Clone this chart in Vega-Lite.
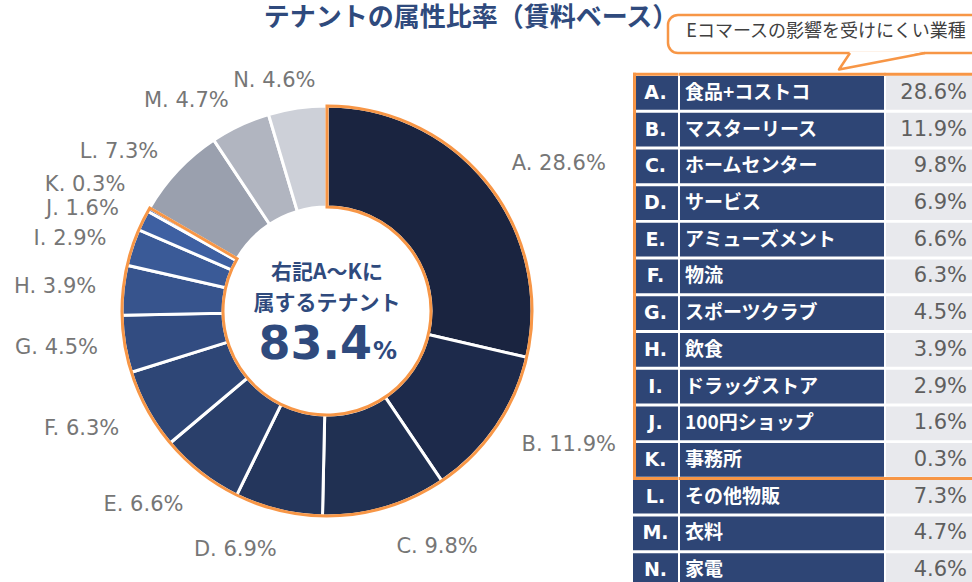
{
  "$schema": "https://vega.github.io/schema/vega-lite/v6.json",
  "padding": 0,
  "background": "white",
  "bounds": "flush",
  "spacing": 0,
  "config": {"view": {"stroke": null}, "concat": {"spacing": 0}},
  "datasets": {
    "tenants": [
      {"key": "A", "name": "食品+コストコ", "value": 28.6, "grp": "AK"},
      {"key": "B", "name": "マスターリース", "value": 11.9, "grp": "AK"},
      {"key": "C", "name": "ホームセンター", "value": 9.8, "grp": "AK"},
      {"key": "D", "name": "サービス", "value": 6.9, "grp": "AK"},
      {"key": "E", "name": "アミューズメント", "value": 6.6, "grp": "AK"},
      {"key": "F", "name": "物流", "value": 6.3, "grp": "AK"},
      {"key": "G", "name": "スポーツクラブ", "value": 4.5, "grp": "AK"},
      {"key": "H", "name": "飲食", "value": 3.9, "grp": "AK"},
      {"key": "I", "name": "ドラッグストア", "value": 2.9, "grp": "AK"},
      {"key": "J", "name": "100円ショップ", "value": 1.6, "grp": "AK"},
      {"key": "K", "name": "事務所", "value": 0.3, "grp": "AK"},
      {"key": "L", "name": "その他物販", "value": 7.3, "grp": "LN"},
      {"key": "M", "name": "衣料", "value": 4.7, "grp": "LN"},
      {"key": "N", "name": "家電", "value": 4.6, "grp": "LN"}
    ],
    "center": [{"l1": "右記A～Kに", "l2": "属するテナント", "pct": "83.4", "unit": "%"}],
    "one": [{"t": "Eコマースの影響を受けにくい業種"}]
  },
  "hconcat": [
    {"width": 21, "height": 10, "data": {"name": "one"}, "mark": {"type": "text", "text": ""}, "encoding": {}},
    {
      "width": 612,
      "height": 620,
      "title": {"text": "テナントの属性比率（賃料ベース）", "font": "Noto Sans CJK JP", "fontSize": 26, "fontWeight": "bold", "color": "#2f4a7d", "anchor": "middle", "frame": "group", "dx": 144, "offset": -30},
      "data": {"name": "tenants"},
      "transform": [{"calculate": "datum.key + '. ' + format(datum.value, '.1f') + '%'", "as": "lbl"}],
      "layer": [
        {
          "mark": {"type": "arc", "outerRadius": 205, "innerRadius": 104, "stroke": "white", "strokeWidth": 3},
          "encoding": {
            "theta": {"field": "value", "type": "quantitative", "stack": true},
            "color": {"field": "key", "type": "nominal", "legend": null,
              "scale": {"domain": ["A","B","C","D","E","F","G","H","I","J","K","L","M","N"],
                "range": ["#1a2440","#1d2a4b","#203052","#24365c","#2a3f6a","#2e4676","#324c81","#37548d","#3a5a97","#3e60a2","#4a6cb3","#9aa0ae","#b1b5c0","#cdd0d8"]}},
            "order": {"field": "key", "type": "ordinal"}
          }
        },
        {
          "transform": [
            {"filter": "datum.grp === 'AK'"},
            {"aggregate": [{"op": "sum", "field": "value", "as": "value"}], "groupby": ["grp"]}
          ],
          "mark": {"type": "arc", "outerRadius": 205, "innerRadius": 104, "fill": "transparent", "stroke": "#f79646", "strokeWidth": 3},
          "encoding": {"theta": {"field": "value", "type": "quantitative", "stack": true}}
        },
        {
          "mark": {"type": "text", "radius": 236, "font": "DejaVu Sans", "fontSize": 21, "color": "#767676", "align": "left", "baseline": "middle"},
          "encoding": {
            "theta": {"field": "value", "type": "quantitative", "stack": true},
            "order": {"field": "key", "type": "ordinal"},
            "detail": {"field": "key", "type": "nominal"},
            "text": {"condition": {"test": "indexof(['A','B'], datum.key) >= 0", "field": "lbl", "type": "nominal"}, "value": ""}
          }
        },
        {
          "mark": {"type": "text", "radius": 246, "font": "DejaVu Sans", "fontSize": 21, "color": "#767676", "align": "left", "baseline": "middle"},
          "encoding": {
            "theta": {"field": "value", "type": "quantitative", "stack": true},
            "order": {"field": "key", "type": "ordinal"},
            "detail": {"field": "key", "type": "nominal"},
            "text": {"condition": {"test": "datum.key === 'C'", "field": "lbl", "type": "nominal"}, "value": ""}
          }
        },
        {
          "mark": {"type": "text", "radius": 246, "font": "DejaVu Sans", "fontSize": 21, "color": "#767676", "align": "right", "baseline": "middle", "dx": 8},
          "encoding": {
            "theta": {"field": "value", "type": "quantitative", "stack": true},
            "order": {"field": "key", "type": "ordinal"},
            "detail": {"field": "key", "type": "nominal"},
            "text": {"condition": {"test": "indexof(['D','E','F'], datum.key) >= 0", "field": "lbl", "type": "nominal"}, "value": ""}
          }
        },
        {
          "mark": {"type": "text", "radius": 232, "font": "DejaVu Sans", "fontSize": 21, "color": "#767676", "align": "right", "baseline": "middle"},
          "encoding": {
            "theta": {"field": "value", "type": "quantitative", "stack": true},
            "order": {"field": "key", "type": "ordinal"},
            "detail": {"field": "key", "type": "nominal"},
            "text": {"condition": {"test": "indexof(['G','H','I','J','L','M'], datum.key) >= 0", "field": "lbl", "type": "nominal"}, "value": ""}
          }
        },
        {
          "mark": {"type": "text", "radius": 232, "font": "DejaVu Sans", "fontSize": 21, "color": "#767676", "align": "right", "baseline": "middle", "dy": -11},
          "encoding": {
            "theta": {"field": "value", "type": "quantitative", "stack": true},
            "order": {"field": "key", "type": "ordinal"},
            "detail": {"field": "key", "type": "nominal"},
            "text": {"condition": {"test": "datum.key === 'K'", "field": "lbl", "type": "nominal"}, "value": ""}
          }
        },
        {
          "mark": {"type": "text", "radius": 232, "font": "DejaVu Sans", "fontSize": 21, "color": "#767676", "align": "right", "baseline": "middle", "dx": 22},
          "encoding": {
            "theta": {"field": "value", "type": "quantitative", "stack": true},
            "order": {"field": "key", "type": "ordinal"},
            "detail": {"field": "key", "type": "nominal"},
            "text": {"condition": {"test": "datum.key === 'N'", "field": "lbl", "type": "nominal"}, "value": ""}
          }
        },
        {
          "data": {"name": "center"},
          "mark": {"type": "text", "font": "Noto Sans CJK JP", "fontSize": 21, "fontWeight": "bold", "color": "#2f4a7d", "baseline": "alphabetic", "dy": -32},
          "encoding": {"text": {"field": "l1", "type": "nominal"}}
        },
        {
          "data": {"name": "center"},
          "mark": {"type": "text", "font": "Noto Sans CJK JP", "fontSize": 21, "fontWeight": "bold", "color": "#2f4a7d", "baseline": "alphabetic", "dy": -1},
          "encoding": {"text": {"field": "l2", "type": "nominal"}}
        },
        {
          "data": {"name": "center"},
          "mark": {"type": "text", "font": "DejaVu Sans", "fontSize": 46, "fontWeight": "bold", "color": "#2f4a7d", "baseline": "alphabetic", "align": "right", "dx": 45, "dy": 48},
          "encoding": {"text": {"field": "pct", "type": "nominal"}}
        },
        {
          "data": {"name": "center"},
          "mark": {"type": "text", "font": "DejaVu Sans", "fontSize": 24, "fontWeight": "bold", "color": "#2f4a7d", "baseline": "alphabetic", "align": "left", "dx": 46, "dy": 48},
          "encoding": {"text": {"field": "unit", "type": "nominal"}}
        }
      ]
    },
    {
      "spacing": 0,
      "vconcat": [
        {"width": 1, "height": 12, "data": {"name": "one"}, "mark": {"type": "text", "text": ""}, "encoding": {}},
        {
          "spacing": 2,
          "bounds": "flush",
          "hconcat": [
            {"width": 33, "height": 38, "data": {"name": "one"}, "mark": {"type": "text", "text": ""}, "encoding": {}},
            {
              "width": 330,
              "height": 38,
              "view": {"fill": "white", "stroke": "#f79646", "strokeWidth": 2.5, "cornerRadius": 10},
              "data": {"name": "one"},
              "layer": [
                {"mark": {"type": "point", "shape": "M0.17,0.175 L0.93,0.175 L0.06,0.355 Z", "size": 40000, "filled": true, "fill": "white", "strokeWidth": 0, "opacity": 1}},
                {"mark": {"type": "point", "shape": "M0.17,0.19 L0.06,0.355 L0.92,0.19", "size": 40000, "filled": false, "stroke": "#f79646", "strokeWidth": 2.5, "strokeJoin": "round", "opacity": 1}},
                {"mark": {"type": "text", "font": "Noto Sans CJK JP", "fontSize": 18, "color": "#404040", "align": "center", "baseline": "middle", "dx": -7, "dy": -2},
                 "encoding": {"text": {"field": "t", "type": "nominal"}}}
              ]
            }
          ]
        },
        {
          "spacing": 2,
          "bounds": "flush",
          "hconcat": [
            {
              "width": 45,
              "height": 511,
              "data": {"name": "tenants"},
              "transform": [{"calculate": "datum.key + '.'", "as": "k"}],
              "encoding": {"y": {"field": "key", "type": "nominal", "axis": null,
                "scale": {"domain": ["A","B","C","D","E","F","G","H","I","J","K","L","M","N"], "paddingInner": 0.08, "paddingOuter": 0}}},
              "layer": [
                {"mark": {"type": "rect", "color": "#2e4575"}},
                {"mark": {"type": "text", "color": "white", "font": "DejaVu Sans", "fontSize": 19, "fontWeight": "bold", "baseline": "middle"},
                 "encoding": {"text": {"field": "k", "type": "nominal"}}},
                {"data": {"name": "one"}, "mark": {"type": "rule", "color": "#f79646", "strokeWidth": 3, "strokeCap": "butt"},
                 "encoding": {"y": {"datum": "A", "type": "nominal", "bandPosition": -0.05}}},
                {"data": {"name": "one"}, "mark": {"type": "rule", "color": "#f79646", "strokeWidth": 3, "strokeCap": "butt"},
                 "encoding": {"y": {"datum": "K", "type": "nominal", "bandPosition": 1.05}}},
                {"data": {"name": "one"}, "mark": {"type": "rule", "color": "#f79646", "strokeWidth": 3, "strokeCap": "square"},
                 "encoding": {
                   "x": {"datum": 0.034, "type": "quantitative", "scale": {"domain": [0, 1]}, "axis": null},
                   "y": {"datum": "A", "type": "nominal", "bandPosition": -0.05},
                   "y2": {"datum": "K", "bandPosition": 1.05}}}
              ]
            },
            {
              "width": 204,
              "height": 511,
              "data": {"name": "tenants"},
              "encoding": {"y": {"field": "key", "type": "nominal", "axis": null,
                "scale": {"domain": ["A","B","C","D","E","F","G","H","I","J","K","L","M","N"], "paddingInner": 0.08, "paddingOuter": 0}}},
              "layer": [
                {"mark": {"type": "rect", "color": "#2e4575"}},
                {"mark": {"type": "text", "color": "white", "font": "Noto Sans CJK JP", "fontSize": 19, "fontWeight": "bold", "baseline": "middle", "align": "left", "dx": -97},
                 "encoding": {"text": {"field": "name", "type": "nominal"}}},
                {"data": {"name": "one"}, "mark": {"type": "rule", "color": "#f79646", "strokeWidth": 3, "strokeCap": "square"},
                 "encoding": {"y": {"datum": "A", "type": "nominal", "bandPosition": -0.05}}},
                {"data": {"name": "one"}, "mark": {"type": "rule", "color": "#f79646", "strokeWidth": 3, "strokeCap": "square"},
                 "encoding": {"y": {"datum": "K", "type": "nominal", "bandPosition": 1.05}}}
              ]
            },
            {
              "width": 95,
              "height": 511,
              "data": {"name": "tenants"},
              "transform": [{"calculate": "format(datum.value, '.1f') + '%'", "as": "pct"}],
              "encoding": {"y": {"field": "key", "type": "nominal", "axis": null,
                "scale": {"domain": ["A","B","C","D","E","F","G","H","I","J","K","L","M","N"], "paddingInner": 0.08, "paddingOuter": 0}}},
              "layer": [
                {"mark": {"type": "rect", "color": "#e8e9ed"}},
                {"mark": {"type": "text", "color": "#5f5f5f", "font": "DejaVu Sans", "fontSize": 21, "baseline": "middle", "align": "right", "dx": 33.5},
                 "encoding": {"text": {"field": "pct", "type": "nominal"}}},
                {"data": {"name": "one"}, "mark": {"type": "rule", "color": "#f79646", "strokeWidth": 3, "strokeCap": "square"},
                 "encoding": {"y": {"datum": "A", "type": "nominal", "bandPosition": -0.05}}},
                {"data": {"name": "one"}, "mark": {"type": "rule", "color": "#f79646", "strokeWidth": 3, "strokeCap": "square"},
                 "encoding": {"y": {"datum": "K", "type": "nominal", "bandPosition": 1.05}}}
              ]
            }
          ]
        }
      ]
    }
  ]
}
